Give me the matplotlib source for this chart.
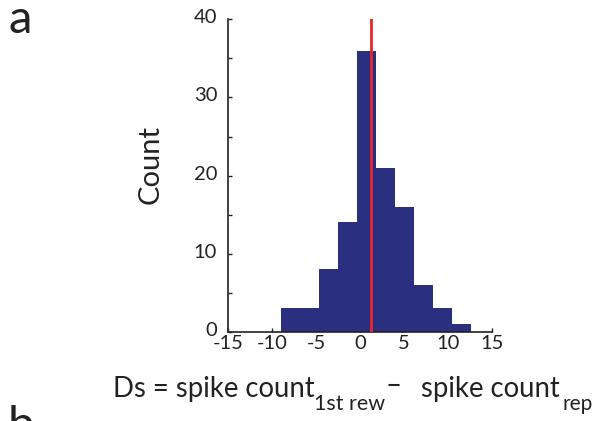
import numpy as np
import matplotlib
matplotlib.use("Agg")
import matplotlib.pyplot as plt
import matplotlib.transforms as mtransforms

# histogram of Ds values (bin edges and counts)
bin_edges = [-9.0, -6.84, -4.68, -2.52, -0.36, 1.8, 3.96, 6.12, 8.28, 10.44, 12.6]
counts = [3, 3, 8, 14, 36, 21, 16, 6, 3, 1]
median_ds = 1.25

xticks = [-15, -10, -5, 0, 5, 10, 15]
yticks = [0, 10, 20, 30, 40]

plt.rcParams['font.family'] = ['Lato', 'DejaVu Sans']
plt.rcParams['axes.unicode_minus'] = False

W, H = 593, 421
fig = plt.figure(figsize=(W / 100, H / 100), dpi=100)
ax = fig.add_axes([0.385, 0.212, 0.444, 0.742])

edges = np.array(bin_edges)
ax.bar(edges[:-1], counts, width=np.diff(edges), align='edge',
       color='#2b2f80', edgecolor='none', zorder=2)
ax.plot([median_ds, median_ds], [0, 40], color='#e8262e', lw=2.0, zorder=3)

ax.set_xlim(-15, 15)
ax.set_ylim(0, 40)
ax.set_xticks(xticks)
ax.set_yticks(yticks)
ax.set_yticks(np.arange(5, 40, 10), minor=True)
ax.set_axisbelow(True)

for s in ['top', 'right']:
    ax.spines[s].set_visible(False)
for s in ['left', 'bottom']:
    ax.spines[s].set_linewidth(1.2)
    ax.spines[s].set_color('#222222')

ax.tick_params(axis='both', which='both', direction='in', length=3,
               width=1, color='#222222', labelsize=14.5, labelcolor='#222222')
ax.tick_params(axis='y', pad=8)
ax.tick_params(axis='x', pad=2)

# y labels sit a little above their ticks in the original
shift = mtransforms.ScaledTranslation(0, 3 / 100, fig.dpi_scale_trans)
for lab in ax.get_yticklabels():
    lab.set_transform(lab.get_transform() + shift)

txt = dict(color='#222222', va='baseline', ha='left')
fig.text(151 / W, 1 - 165 / H, 'Count', rotation=90, ha='center',
         va='center', fontsize=21, color='#222222')

# x label built from pieces so the subscripts sit like the original
fig.text(113 / W, 1 - 397 / H, 'Ds = spike count', fontsize=19.8, **txt)
fig.text(314 / W, 1 - 410 / H, '1st rew', fontsize=15.5, **txt)
fig.text(386 / W, 1 - 394 / H, '\u2013', fontsize=19.8, **txt)
fig.text(421 / W, 1 - 397 / H, 'spike count', fontsize=19.8, **txt)
fig.text(562 / W, 1 - 410 / H, 'rep', fontsize=15, **txt)

fig.text(8 / W, 1 - 33 / H, 'a', fontsize=34, **txt)
fig.text(8 / W, 1 - 439 / H, 'b', fontsize=34, **txt)

fig.savefig('out.png', dpi=100)
